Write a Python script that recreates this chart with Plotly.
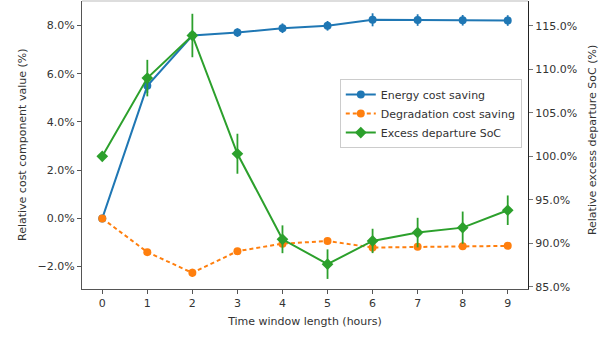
import plotly.graph_objects as go

# Time window length (hours)
hours = [0, 1, 2, 3, 4, 5, 6, 7, 8, 9]

# Relative cost component values (%) with error bar half-widths
energy_saving = [0.0, 5.50, 7.59, 7.71, 7.89, 7.99, 8.24, 8.23, 8.22, 8.21]
energy_err = [0.05, 0.30, 0.15, 0.18, 0.20, 0.20, 0.27, 0.24, 0.22, 0.22]

degradation_saving = [0.0, -1.40, -2.26, -1.36, -1.05, -0.94, -1.21, -1.18, -1.16, -1.14]
degradation_err = [0.05, 0.10, 0.17, 0.10, 0.10, 0.08, 0.19, 0.08, 0.06, 0.06]

# Relative excess departure SoC (%)
excess_soc = [100.0, 109.0, 113.9, 100.3, 90.46, 87.6, 90.27, 91.23, 91.8, 93.8]
excess_err = [0.0, 2.1, 2.5, 2.3, 1.6, 1.7, 1.4, 1.7, 1.85, 1.7]

left_ticks = [-2, 0, 2, 4, 6, 8]
right_ticks = [85, 90, 95, 100, 105, 110, 115]


def pct_labels(vals):
    return [f"{v:.1f}%".replace("-", "\u2212") for v in vals]


BLUE = "#1f77b4"
ORANGE = "#ff7f0e"
GREEN = "#2ca02c"
FONT = "DejaVu Sans"
TXT = "#333333"
SIZE = 11

fig = go.Figure()

fig.add_trace(go.Scatter(
    x=hours, y=energy_saving, name="Energy cost saving",
    mode="lines+markers",
    line=dict(color=BLUE, width=2),
    marker=dict(color=BLUE, size=8, symbol="circle"),
    error_y=dict(type="data", array=energy_err, color=BLUE, thickness=1.8, width=0),
    yaxis="y",
))
fig.add_trace(go.Scatter(
    x=hours, y=degradation_saving, name="Degradation cost saving",
    mode="lines+markers",
    line=dict(color=ORANGE, width=2, dash="4px,3px"),
    marker=dict(color=ORANGE, size=8, symbol="circle"),
    error_y=dict(type="data", array=degradation_err, color=ORANGE, thickness=1.8, width=0),
    yaxis="y",
))
fig.add_trace(go.Scatter(
    x=hours, y=excess_soc, name="Excess departure SoC",
    mode="lines+markers",
    line=dict(color=GREEN, width=2),
    marker=dict(color=GREEN, size=9, symbol="diamond"),
    error_y=dict(type="data", array=excess_err, color=GREEN, thickness=1.8, width=0),
    yaxis="y2",
))

fig.update_layout(
    width=610, height=338,
    margin=dict(l=82, r=82, t=1, b=49),
    paper_bgcolor="white", plot_bgcolor="white",
    font=dict(family=FONT, size=SIZE, color=TXT),
    showlegend=True,
    legend=dict(
        x=0.578, y=0.729, xanchor="left", yanchor="top",
        bgcolor="rgba(255,255,255,0.9)", bordercolor="#cccccc", borderwidth=1,
        font=dict(family=FONT, size=SIZE, color=TXT),
        itemwidth=30, tracegroupgap=0,
    ),
    xaxis=dict(
        range=[-0.45, 9.45], tickvals=hours,
        showgrid=False, zeroline=False,
        showline=True, linecolor="#555555", linewidth=1.2,
        ticks="outside", ticklen=4, tickcolor="#555555",
        tickfont=dict(size=SIZE),
        title=dict(text="Time window length (hours)", font=dict(size=SIZE), standoff=8),
        automargin=False,
    ),
    yaxis=dict(
        range=[-2.93, 9.02], tickvals=left_ticks, ticktext=pct_labels(left_ticks),
        showgrid=False, zeroline=False,
        showline=True, linecolor="#555555", linewidth=1.2,
        ticks="outside", ticklen=4, tickcolor="#555555",
        tickfont=dict(size=SIZE),
        automargin=False,
    ),
    yaxis2=dict(
        range=[84.74, 117.87], tickvals=right_ticks, ticktext=pct_labels(right_ticks),
        overlaying="y", side="right", anchor="x",
        showgrid=False, zeroline=False,
        showline=True, linecolor="#222222", linewidth=1.2,
        ticks="outside", ticklen=4, tickcolor="#777777",
        tickfont=dict(size=SIZE),
        automargin=False,
    ),
    annotations=[
        dict(text="Relative cost component value (%)", xref="paper", yref="paper",
             x=0, y=0.5, xshift=-60, textangle=-90, showarrow=False,
             xanchor="center", yanchor="middle", font=dict(size=SIZE, color=TXT)),
        dict(text="Relative excess departure SoC (%)", xref="paper", yref="paper",
             x=1, y=0.517, xshift=64, textangle=-90, showarrow=False,
             xanchor="center", yanchor="middle", font=dict(size=SIZE, color=TXT)),
    ],
    shapes=[dict(type="line", xref="paper", yref="paper", x0=0, x1=1, y0=1, y1=1,
                 line=dict(color="#bbbbbb", width=1.2))],
)

fig.write_html("out.html")
